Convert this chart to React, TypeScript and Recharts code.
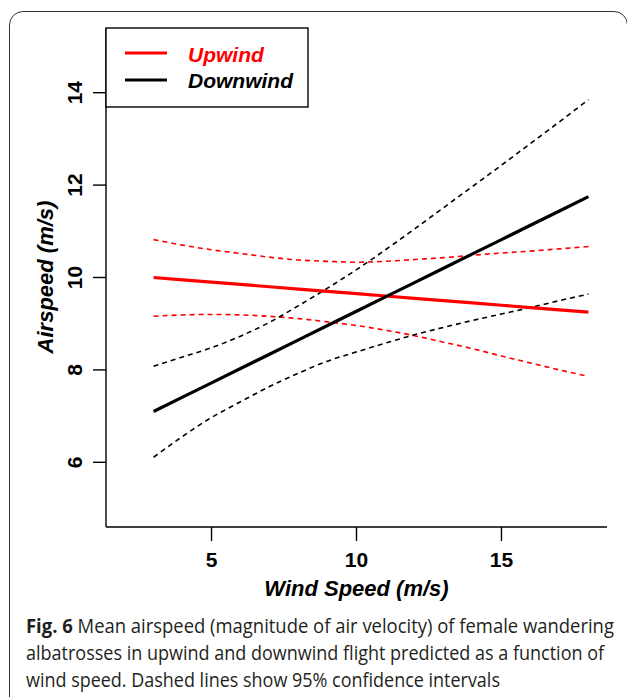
import React from "react";
import { LineChart, Line, XAxis, YAxis } from "recharts";

// wind speed (m/s) at which the model predictions were read
const windSpeed = [3, 4, 5, 6, 7, 8, 9, 10, 11, 12, 13, 14, 15, 16, 17, 18];

// upwind airspeed (m/s) with 95% CI
const upwindMean = [10.0, 9.95, 9.9, 9.85, 9.8, 9.75, 9.7, 9.65, 9.6, 9.55, 9.5, 9.45, 9.4, 9.35, 9.3, 9.25];
const upwindUpper = [10.82, 10.7, 10.6, 10.52, 10.44, 10.38, 10.35, 10.33, 10.35, 10.39, 10.43, 10.48, 10.53, 10.57, 10.62, 10.67];
const upwindLower = [9.16, 9.19, 9.2, 9.19, 9.16, 9.11, 9.04, 8.96, 8.86, 8.74, 8.6, 8.46, 8.3, 8.15, 8.0, 7.86];

// downwind airspeed (m/s) with 95% CI
const downwindMean = [7.1, 7.41, 7.72, 8.03, 8.34, 8.65, 8.96, 9.27, 9.58, 9.89, 10.2, 10.51, 10.82, 11.13, 11.44, 11.75];
const downwindUpper = [8.08, 8.28, 8.48, 8.73, 9.03, 9.39, 9.77, 10.17, 10.6, 11.05, 11.51, 11.97, 12.43, 12.9, 13.37, 13.85];
const downwindLower = [6.11, 6.56, 6.97, 7.31, 7.64, 7.93, 8.19, 8.39, 8.58, 8.76, 8.92, 9.07, 9.21, 9.35, 9.5, 9.64];

const xTicks = [5, 10, 15];
const yTicks = [6, 8, 10, 12, 14];

const data = windSpeed.map((x, i) => ({
  x,
  upMean: upwindMean[i],
  upHi: upwindUpper[i],
  upLo: upwindLower[i],
  downMean: downwindMean[i],
  downHi: downwindUpper[i],
  downLo: downwindLower[i],
}));

const sans = "'Liberation Sans', Arial, sans-serif";

const XTick = (props: any) => {
  const { x, y, payload } = props;
  return (
    <text x={x} y={y + 25.5} textAnchor="middle" fontFamily={sans} fontWeight="bold" fontSize={21} fill="#000">
      {payload.value}
    </text>
  );
};

const YTick = (props: any) => {
  const { x, y, payload } = props;
  return (
    <text
      transform={`translate(${x - 11},${y}) rotate(-90)`}
      textAnchor="middle"
      fontFamily={sans}
      fontWeight="bold"
      fontSize={21}
      fill="#000"
    >
      {payload.value}
    </text>
  );
};

const axisStroke = { stroke: "#000", strokeWidth: 1.4 };

export default function App() {
  return (
    <div style={{ position: "absolute", left: 0, top: 0, width: 627, height: 697, overflow: "hidden", background: "#fff" }}>
      <div
        style={{
          position: "absolute",
          left: 9,
          top: 11,
          width: 619,
          height: 720,
          boxSizing: "border-box",
          border: "1.5px solid #333",
          borderRadius: 14,
        }}
      />
      <div style={{ position: "absolute", left: 0, top: 0 }}>
        <LineChart width={627} height={620} data={data} margin={{ top: 28, right: 20, left: 0, bottom: 13 }}>
          <XAxis
            xAxisId="bottom"
            dataKey="x"
            type="number"
            domain={[1.36, 18.64]}
            allowDataOverflow
            ticks={xTicks}
            tickSize={14}
            tickMargin={0}
            height={80}
            axisLine={axisStroke}
            tickLine={axisStroke}
            tick={<XTick />}
          />
          <XAxis xAxisId="top" orientation="top" dataKey="x" type="number" domain={[1.36, 18.64]} allowDataOverflow height={0} tick={false} tickLine={false} axisLine={axisStroke} />
          <YAxis
            yAxisId="left"
            type="number"
            domain={[4.6, 15.4]}
            allowDataOverflow
            ticks={yTicks}
            tickSize={13}
            tickMargin={0}
            width={106}
            axisLine={axisStroke}
            tickLine={axisStroke}
            tick={<YTick />}
          />
          <YAxis yAxisId="right" orientation="right" type="number" domain={[4.6, 15.4]} allowDataOverflow width={0} tick={false} tickLine={false} axisLine={axisStroke} />

          <Line xAxisId="bottom" yAxisId="left" dataKey="upHi" type="monotone" stroke="#ff0000" strokeWidth={1.6} strokeDasharray="5 4" dot={false} isAnimationActive={false} />
          <Line xAxisId="bottom" yAxisId="left" dataKey="upLo" type="monotone" stroke="#ff0000" strokeWidth={1.6} strokeDasharray="5 4" dot={false} isAnimationActive={false} />
          <Line xAxisId="bottom" yAxisId="left" dataKey="downHi" type="monotone" stroke="#000" strokeWidth={1.6} strokeDasharray="5 4" dot={false} isAnimationActive={false} />
          <Line xAxisId="bottom" yAxisId="left" dataKey="downLo" type="monotone" stroke="#000" strokeWidth={1.6} strokeDasharray="5 4" dot={false} isAnimationActive={false} />
          <Line xAxisId="bottom" yAxisId="left" dataKey="upMean" type="linear" stroke="#ff0000" strokeWidth={3.2} dot={false} isAnimationActive={false} />
          <Line xAxisId="bottom" yAxisId="left" dataKey="downMean" type="linear" stroke="#000" strokeWidth={3.2} dot={false} isAnimationActive={false} />
        </LineChart>
      </div>
      <svg width={627} height={697} style={{ position: "absolute", left: 0, top: 0, pointerEvents: "none" }}>
        {/* legend */}
        <rect x={106} y={28} width={202} height={79} fill="#fff" stroke="#000" strokeWidth={1.4} />
        <line x1={125} x2={167} y1={53} y2={53} stroke="#ff0000" strokeWidth={3.2} />
        <line x1={125} x2={167} y1={80} y2={80} stroke="#000" strokeWidth={3.2} />
        <text x={188} y={62} fontFamily={sans} fontWeight="bold" fontStyle="italic" fontSize={21} fill="#ff0000">
          Upwind
        </text>
        <text x={188} y={88} fontFamily={sans} fontWeight="bold" fontStyle="italic" fontSize={21} fill="#000">
          Downwind
        </text>

        {/* axis titles */}
        <text x={356.5} y={596} textAnchor="middle" fontFamily={sans} fontWeight="bold" fontStyle="italic" fontSize={22} fill="#000">
          Wind Speed (m/s)
        </text>
        <text transform="translate(53,277) rotate(-90)" textAnchor="middle" fontFamily={sans} fontWeight="bold" fontStyle="italic" fontSize={22} fill="#000">
          Airspeed (m/s)
        </text>

        {/* caption, drawn slightly condensed */}
        <g transform="translate(26,0) scale(0.82,1)" fontFamily="'Open Sans', 'Noto Sans', sans-serif" fontSize={20} fill="#231f20">
          <text x={0} y={633} textLength={717} lengthAdjust="spacingAndGlyphs">
            <tspan fontWeight="bold">Fig. 6</tspan> Mean airspeed (magnitude of air velocity) of female wandering
          </text>
          <text x={0} y={660} textLength={705} lengthAdjust="spacingAndGlyphs">
            albatrosses in upwind and downwind flight predicted as a function of
          </text>
          <text x={0} y={687} textLength={578} lengthAdjust="spacingAndGlyphs">
            wind speed. Dashed lines show 95% confidence intervals
          </text>
        </g>
      </svg>
    </div>
  );
}
